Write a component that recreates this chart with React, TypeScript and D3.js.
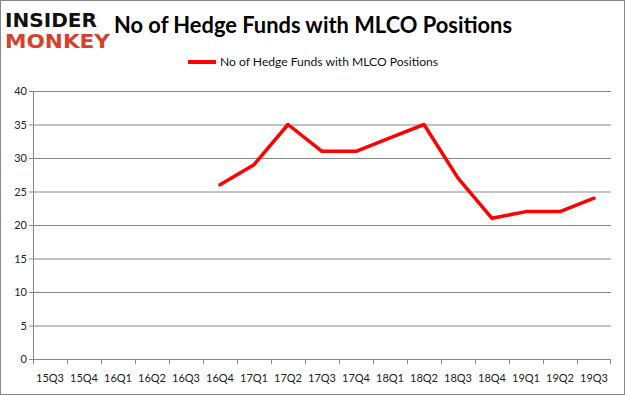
import React from 'react';
import * as d3 from 'd3';

const quarters = ['15Q3', '15Q4', '16Q1', '16Q2', '16Q3', '16Q4', '17Q1', '17Q2', '17Q3', '17Q4', '18Q1', '18Q2', '18Q3', '18Q4', '19Q1', '19Q2', '19Q3'];
const hedgeFunds: (number | null)[] = [null, null, null, null, null, 26, 29, 35, 31, 31, 33, 35, 27, 21, 22, 22, 24];
const yTicks = [0, 5, 10, 15, 20, 25, 30, 35, 40];
const title = 'No of Hedge Funds with MLCO Positions';

const App: React.FC = () => {
    const width = 625;
    const height = 395;
    const margin = { top: 91, right: 14, bottom: 36, left: 33 };

    const x = d3.scaleBand()
        .domain(quarters)
        .range([margin.left, width - margin.right]);

    const y = d3.scaleLinear()
        .domain([0, 40])
        .range([height - margin.bottom, margin.top]);

    const pts = quarters.map((q, i) => ({ q, v: hedgeFunds[i] }));
    const line = d3.line<{ q: string; v: number | null }>()
        .defined(d => d.v != null)
        .x(d => (x(d.q) as number) + x.bandwidth() / 2)
        .y(d => y(d.v as number));

    const font = 'Lato, "Open Sans", sans-serif';
    const x0 = margin.left;
    const x1 = width - margin.right;
    const y0 = y(0);

    return (
        <svg width={width} height={height} style={{ position: 'absolute', left: 0, top: 0, background: '#fff' }}>
            <rect x={0.5} y={0.5} width={width - 1} height={height - 1} fill="#fff" stroke="#888" />

            {/* logo */}
            <text x={5} y={27} fontFamily='"DejaVu Sans", sans-serif' fontWeight="bold" fontSize={19} textLength={92} lengthAdjust="spacingAndGlyphs" fill="#111">INSIDER</text>
            <text x={5} y={48} fontFamily='"DejaVu Sans", sans-serif' fontWeight="bold" fontSize={19} textLength={105} lengthAdjust="spacingAndGlyphs" fill="#d6412e">MONKEY</text>

            <text x={114} y={33} fontFamily={font} fontWeight="bold" fontSize={22} textLength={398} lengthAdjust="spacingAndGlyphs" fill="#000">{title}</text>

            {/* legend */}
            <line x1={188} x2={216} y1={62} y2={62} stroke="#ff0000" strokeWidth={4} />
            <text x={220} y={66} fontFamily={font} fontSize={11.5} textLength={218} lengthAdjust="spacingAndGlyphs" fill="#111">{title}</text>

            {/* grid */}
            {yTicks.filter(t => t > 0).map(t => (
                <line key={t} x1={x0} x2={x1} y1={y(t) + 0.5} y2={y(t) + 0.5} stroke="#888" />
            ))}

            {/* y axis */}
            <line x1={x0 + 0.5} x2={x0 + 0.5} y1={margin.top} y2={y0} stroke="#888" />
            {yTicks.map(t => (
                <g key={t}>
                    <line x1={x0 - 4} x2={x0} y1={y(t) + 0.5} y2={y(t) + 0.5} stroke="#888" />
                    <text x={x0 - 6} y={y(t) + 4} textAnchor="end" fontFamily={font} fontSize={11} fill="#222">{t}</text>
                </g>
            ))}

            {/* x axis */}
            <line x1={x0} x2={x1} y1={y0 + 0.5} y2={y0 + 0.5} stroke="#888" />
            {quarters.map(q => (
                <line key={'t' + q} x1={(x(q) as number) + 0.5} x2={(x(q) as number) + 0.5} y1={y0} y2={y0 + 5} stroke="#888" />
            ))}
            <line x1={x1 - 0.5} x2={x1 - 0.5} y1={y0} y2={y0 + 5} stroke="#888" />
            {quarters.map(q => (
                <text key={q} x={(x(q) as number) + x.bandwidth() / 2} y={y0 + 23} textAnchor="middle" fontFamily={font} fontSize={11} fill="#222">{q}</text>
            ))}

            <path d={line(pts) || ''} fill="none" stroke="#ff0000" strokeWidth={3.5} strokeLinejoin="round" strokeLinecap="round" />
        </svg>
    );
};

export default App;
